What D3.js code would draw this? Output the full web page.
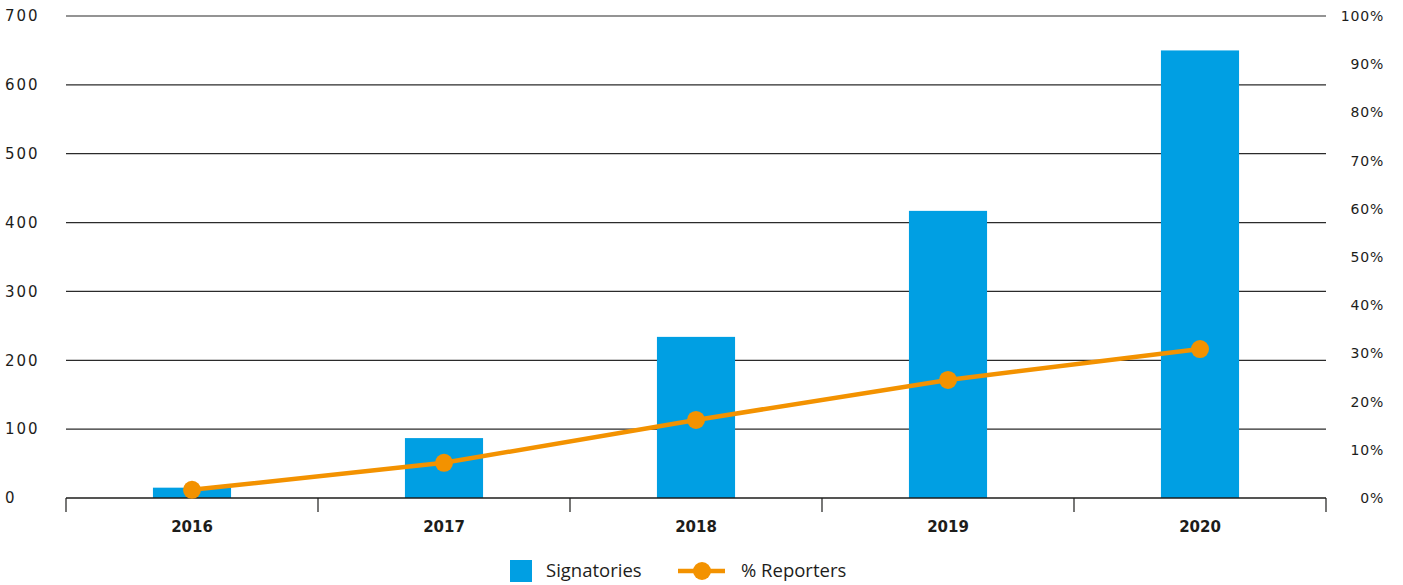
<!DOCTYPE html>
<html>
<head>
<meta charset="utf-8">
<script src="https://cdnjs.cloudflare.com/ajax/libs/d3/7.8.5/d3.min.js"></script>
<style>
  body { margin: 0; background: #fff; }
  svg text { font-family: "DejaVu Sans", sans-serif; fill: #1d1d1b; }
  svg text.legend { font-family: "Open Sans", sans-serif; }
</style>
</head>
<body>
<div id="chart"></div>
<script>
let years = ['2016', '2017', '2018', '2019', '2020'];
let signatories = [15, 87, 234, 417, 650];
let reporters = [1.7, 7.3, 16.2, 24.5, 30.9];
let leftTicks = [0, 100, 200, 300, 400, 500, 600, 700];
let rightTicks = [0, 10, 20, 30, 40, 50, 60, 70, 80, 90, 100];

let width = 1403, height = 585,
  margin = {top: 16, left: 66, right: 77, bottom: 87},
  plotWidth = width - margin.left - margin.right,
  plotHeight = height - margin.top - margin.bottom;

let svg = d3.select('#chart').append('svg')
  .attr('width', width)
  .attr('height', height);

let g = svg.append('g').attr('transform', 'translate(' + margin.left + ',' + margin.top + ')');

let xScale = d3.scaleBand()
  .range([0, plotWidth])
  .domain(years)
  .paddingInner(0.69)
  .paddingOuter(0.345);

let yLeft = d3.scaleLinear().domain([0, 700]).range([plotHeight, 0]);
let yRight = d3.scaleLinear().domain([0, 100]).range([plotHeight, 0]);

// gridlines
g.selectAll('.grid')
  .data(leftTicks.slice(1))
  .enter()
  .append('line')
  .attr('x1', 0)
  .attr('x2', plotWidth)
  .attr('y1', (d) => yLeft(d))
  .attr('y2', (d) => yLeft(d))
  .attr('stroke', '#2b2b2b')
  .attr('stroke-width', 1.2);

// left labels
g.selectAll('.ltick')
  .data(leftTicks)
  .enter()
  .append('text')
  .attr('x', 5 - margin.left)
  .attr('y', (d) => yLeft(d))
  .attr('dy', '0.35em')
  .style('font-size', '15px')
  .style('letter-spacing', '2px')
  .text((d) => d);

// right labels
g.selectAll('.rtick')
  .data(rightTicks)
  .enter()
  .append('text')
  .attr('x', plotWidth + 58)
  .attr('y', (d) => yRight(d))
  .attr('dy', '0.35em')
  .attr('text-anchor', 'end')
  .style('font-size', '14px')
  .style('letter-spacing', '0.8px')
  .text((d) => d + '%');

// bars
g.selectAll('.bar')
  .data(years)
  .enter()
  .append('rect')
  .attr('fill', '#009fe3')
  .attr('x', (d) => xScale(d))
  .attr('width', xScale.bandwidth())
  .attr('y', (d, i) => yLeft(signatories[i]))
  .attr('height', (d, i) => plotHeight - yLeft(signatories[i]));

// x axis line and separators
g.append('line')
  .attr('x1', 0).attr('x2', plotWidth)
  .attr('y1', plotHeight).attr('y2', plotHeight)
  .attr('stroke', '#1d1d1b').attr('stroke-width', 1.5);

let step = xScale.step();
let bounds = d3.range(years.length + 1).map((i) => xScale(years[0]) - step * 0.345 + i * step);
g.selectAll('.sep')
  .data(bounds)
  .enter()
  .append('line')
  .attr('x1', (d) => d).attr('x2', (d) => d)
  .attr('y1', plotHeight).attr('y2', plotHeight + 14)
  .attr('stroke', '#1d1d1b').attr('stroke-width', 1.2);

g.selectAll('.xlabel')
  .data(years)
  .enter()
  .append('text')
  .attr('x', (d) => xScale(d) + xScale.bandwidth() / 2)
  .attr('y', plotHeight + 34)
  .attr('text-anchor', 'middle')
  .style('font-size', '15px')
  .style('font-weight', 'bold')
  .text((d) => d);

// line
let pts = years.map((d, i) => [xScale(d) + xScale.bandwidth() / 2, yRight(reporters[i])]);
g.append('path')
  .attr('d', d3.line()(pts))
  .attr('fill', 'none')
  .attr('stroke', '#f39200')
  .attr('stroke-width', 4.5);

g.selectAll('.dot')
  .data(pts)
  .enter()
  .append('circle')
  .attr('cx', (d) => d[0])
  .attr('cy', (d) => d[1])
  .attr('r', 9)
  .attr('fill', '#f39200');

// legend
let legend = svg.append('g').attr('transform', 'translate(0,571)');
legend.append('rect')
  .attr('x', 510).attr('y', -11).attr('width', 22).attr('height', 22)
  .attr('fill', '#009fe3');
legend.append('text')
  .attr('class', 'legend')
  .attr('x', 546).attr('y', 0).attr('dy', '0.35em')
  .style('font-size', '18.5px')
  .text('Signatories');
legend.append('line')
  .attr('x1', 678).attr('x2', 725).attr('y1', 0).attr('y2', 0)
  .attr('stroke', '#f39200').attr('stroke-width', 4.5);
legend.append('circle')
  .attr('cx', 702).attr('cy', 0).attr('r', 9)
  .attr('fill', '#f39200');
legend.append('text')
  .attr('class', 'legend')
  .attr('x', 741).attr('y', 0).attr('dy', '0.35em')
  .style('font-size', '18.5px')
  .text('% Reporters');
</script>
</body>
</html>
